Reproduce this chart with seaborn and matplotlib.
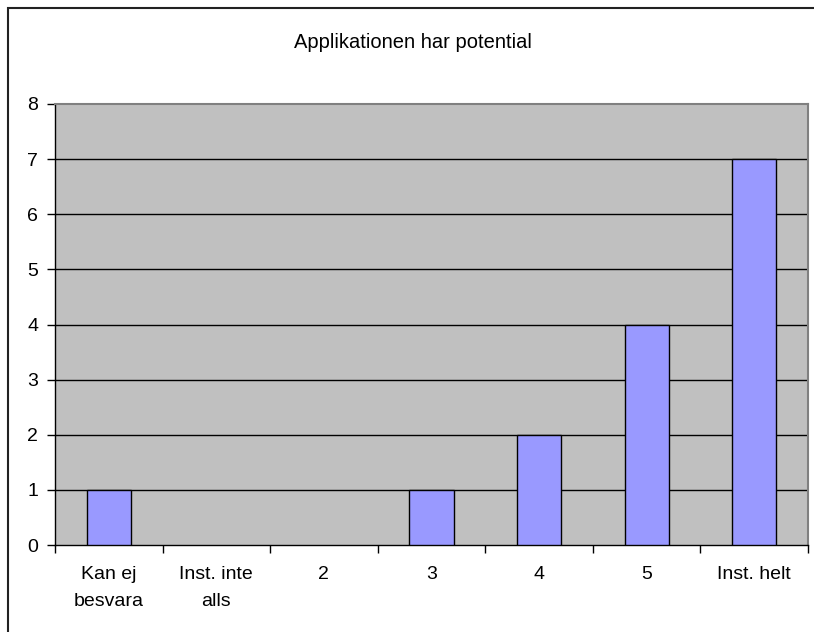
import matplotlib
matplotlib.use("Agg")
import matplotlib.pyplot as plt
from matplotlib.patches import Rectangle
from matplotlib.ticker import FixedLocator
import seaborn as sns
import pandas as pd

categories = ["Kan ej\nbesvara", "Inst. inte\nalls", "2", "3", "4", "5", "Inst. helt"]
counts = [1, 0, 0, 1, 2, 4, 7]
y_ticks = [0, 1, 2, 3, 4, 5, 6, 7, 8]
title = "Applikationen har potential"

sns.set_theme(style="white")
plt.rcParams["font.family"] = ["Liberation Sans", "DejaVu Sans"]

df = pd.DataFrame({"category": categories, "count": counts})

fig = plt.figure(figsize=(8.14, 6.32), dpi=100)
ax = fig.add_axes([55 / 814, 87 / 632, 753 / 814, 441 / 632])
ax.set_facecolor("#C0C0C0")

sns.barplot(data=df, x="category", y="count", order=categories,
            color="#9999FF", edgecolor="black", linewidth=1.0,
            width=0.41, saturation=1, ax=ax, zorder=3)

# empty categories get no outline
for bar in ax.patches:
    if bar.get_height() == 0:
        bar.set_visible(False)

ax.set_xlim(-0.5, len(categories) - 0.5)
ax.set_ylim(0, 8)
ax.set_yticks(y_ticks)
ax.grid(False)
for v in y_ticks[1:-1]:
    ax.axhline(v, color="black", linewidth=1.0, zorder=1)

ax.set_xlabel("")
ax.set_ylabel("")

# category boundary ticks on the x axis
ax.xaxis.set_minor_locator(FixedLocator([i - 0.5 for i in range(len(categories) + 1)]))
ax.tick_params(axis="x", which="major", length=0, pad=15, labelsize=14, colors="black")
ax.tick_params(axis="x", which="minor", length=6, width=1, color="black", direction="out", bottom=True)
ax.tick_params(axis="y", which="major", length=6, width=1, color="black", direction="out",
               left=True, pad=6, labelsize=14, labelcolor="black")
for lbl in ax.get_xticklabels():
    lbl.set_linespacing(1.77)

for side in ["left", "bottom"]:
    ax.spines[side].set_color("black")
    ax.spines[side].set_linewidth(1.0)
for side in ["top", "right"]:
    ax.spines[side].set_color("#808080")
    ax.spines[side].set_linewidth(1.5)
    ax.spines[side].set_visible(True)

fig.text(413 / 814, 1 - 42 / 632, title, ha="center", va="center", fontsize=14.5, color="black")

# outer chart frame
fig.patches.append(Rectangle((8 / 814, -0.05), 1.1, 1 - 8 / 632 + 0.05,
                             transform=fig.transFigure, fill=False,
                             edgecolor="#222222", linewidth=1.5))

fig.savefig("out.png", dpi=100)
